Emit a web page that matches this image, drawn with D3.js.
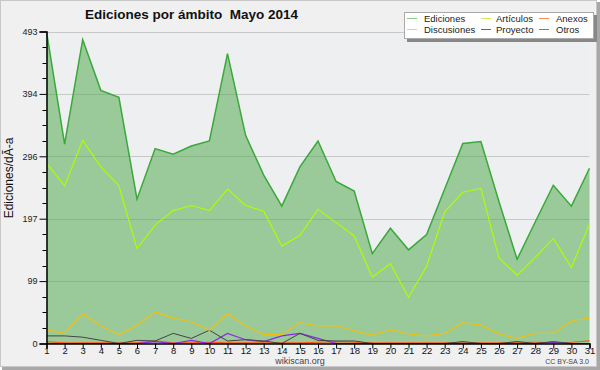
<!DOCTYPE html>
<html>
<head>
<meta charset="utf-8">
<script src="https://cdn.jsdelivr.net/npm/d3@7"></script>
<style>
  body { margin: 0; background: #fff; }
  text { font-family: "Liberation Sans", Arial, sans-serif; white-space: pre; }
</style>
</head>
<body>
<div id="chart"></div>
<script>
// days of the month
var days = d3.range(1, 32);

// series values
var ediciones = [493, 315, 480, 400, 389, 228, 308, 299, 312, 320, 458, 329, 266, 217, 279, 320,
                 256, 241, 142, 182, 148, 172, 244, 316, 319, 224, 133, 192, 250, 217, 277];
var articulos = [285, 249, 321, 279, 249, 150, 187, 210, 218, 210, 244, 218, 209, 154, 171, 212,
                 191, 170, 105, 126, 73, 122, 208, 239, 245, 135, 108, 136, 166, 120, 189];
var discusiones = [22, 16, 47, 28, 14, 29, 50, 40, 34, 21, 47, 28, 14, 14, 33, 28,
                   28, 20, 13, 22, 15, 12, 16, 33, 29, 15, 8, 16, 16, 36, 40];
var proyecto = [12, 12, 10, 5, 0, 5, 4, 16, 8, 21, 4, 6, 4, 0, 16, 5,
                4, 4, 0, 0, 0, 0, 0, 3, 0, 0, 3, 0, 3, 0, 0];
var anexos = [3, 1, 1, 1, 1, 1, 4, 1, 1, 2, 1, 1, 1, 1, 1, 2,
              3, 2, 1, 1, 1, 1, 1, 1, 1, 1, 2, 2, 1, 2, 4];
var otros = [0, 0, 0, 0, 0, 0, 3, 0, 5, 0, 16, 6, 3, 12, 16, 8,
             0, 0, 0, 0, 0, 0, 0, 0, 0, 0, 0, 0, 2, 0, 0];

var yMax = 493;
var yTickLabels = ["0", "99", "197", "296", "394", "493"];

var legendNames = ["Ediciones", "Artículos", "Anexos", "Discusiones", "Proyecto", "Otros"];
var legendColors = ["#88cc88", "#ccee55", "#ff8855", "#ffcc44", "#666666", "#9955ee"];

var W = 600, H = 370;
var margin = {top: 31.5, right: 10, bottom: 26.5, left: 46.5};

var svg = d3.select("#chart").append("svg")
    .attr("width", W)
    .attr("height", H);

// frame with shadow
svg.append("rect").attr("x", 2).attr("y", 2).attr("width", W - 2).attr("height", H - 2)
    .attr("fill", "#a8a8a8");
svg.append("rect").attr("x", 0.5).attr("y", 0.5).attr("width", W - 4).attr("height", H - 4)
    .attr("fill", "#f0f0f0").attr("stroke", "#c8c8c8");

var x = d3.scaleLinear().domain([1, 31]).range([margin.left, W - margin.right - 0.5]);
var y = d3.scaleLinear().domain([0, yMax]).range([H - margin.bottom, margin.top]);

// plot background
svg.append("rect")
    .attr("x", x(1)).attr("y", y(yMax))
    .attr("width", x(31) - x(1)).attr("height", y(0) - y(yMax))
    .attr("fill", "#eeeff1");

var majorTicks = d3.range(0, 6).map(function(i) { return yMax * i / 5; });
var minorTicks = d3.range(0, 21).map(function(i) { return yMax * i / 20; });

// gridlines
svg.append("g").selectAll("line")
    .data(majorTicks.slice(1))
    .join("line")
    .attr("x1", x(1)).attr("x2", x(31))
    .attr("y1", function(d) { return Math.round(y(d)) + 0.5; })
    .attr("y2", function(d) { return Math.round(y(d)) + 0.5; })
    .attr("stroke", "#c8c8c8");

// ediciones area
var area = d3.area()
    .x(function(d, i) { return x(days[i]); })
    .y0(y(0))
    .y1(function(d) { return y(d); });

svg.append("path")
    .datum(ediciones)
    .attr("d", area)
    .attr("fill", "#46a543")
    .attr("fill-opacity", 0.5);

var line = d3.line()
    .x(function(d, i) { return x(days[i]); })
    .y(function(d) { return y(d); });

var series = [
  {values: anexos, color: "#ff5a10", width: 1.2},
  {values: otros, color: "#8a2be2", width: 1.2},
  {values: proyecto, color: "#444444", width: 1},
  {values: discusiones, color: "#f0c010", width: 1.2},
  {values: articulos, color: "#aaff00", width: 1.2},
  {values: ediciones, color: "#3aa83a", width: 1.5}
];

svg.append("g").selectAll("path")
    .data(series)
    .join("path")
    .attr("d", function(d) { return line(d.values); })
    .attr("fill", "none")
    .attr("stroke", function(d) { return d.color; })
    .attr("stroke-width", function(d) { return d.width; });

// y axis
var yAxis = d3.axisLeft(y)
    .tickValues(majorTicks)
    .tickFormat(function(d, i) { return yTickLabels[i]; })
    .tickSize(7)
    .tickPadding(2);
var gy = svg.append("g").attr("transform", "translate(" + x(1) + ",0)").call(yAxis);
gy.select(".domain").attr("stroke", "#000").attr("stroke-width", 1.5);
gy.selectAll("text").attr("font-size", 9).attr("fill", "#222")
    .attr("font-family", "DejaVu Sans");

svg.append("g").selectAll("line")
    .data(minorTicks.filter(function(d, i) { return i % 4 !== 0; }))
    .join("line")
    .attr("x1", x(1) - 4).attr("x2", x(1))
    .attr("y1", function(d) { return Math.round(y(d)) + 0.5; })
    .attr("y2", function(d) { return Math.round(y(d)) + 0.5; })
    .attr("stroke", "#000");

// x axis
var xAxis = d3.axisBottom(x)
    .tickValues(days)
    .tickFormat(d3.format("d"))
    .tickSize(5)
    .tickPadding(0);
var gx = svg.append("g").attr("transform", "translate(0," + y(0) + ")").call(xAxis);
gx.select(".domain").attr("stroke", "#000").attr("stroke-width", 1.5);
gx.selectAll("text").attr("font-size", 9.5).attr("fill", "#111")
    .attr("y", 3.5)
    .attr("font-family", "DejaVu Sans");

// y label
svg.append("text")
    .attr("transform", "translate(13," + 178 + ") rotate(-90)")
    .attr("text-anchor", "middle")
    .attr("font-size", 12)
    .attr("font-family", "DejaVu Sans")
    .attr("fill", "#111")
    .text("Ediciones/dÃ-a");

// title
svg.append("text")
    .attr("x", 85).attr("y", 19)
    .attr("font-size", 13.5)
    .attr("font-weight", "bold")
    .attr("fill", "#111")
    .text("Ediciones por ámbito  Mayo 2014");

// footer
svg.append("text")
    .attr("x", 300).attr("y", 364)
    .attr("text-anchor", "middle")
    .attr("font-size", 9)
    .attr("fill", "#444")
    .text("wikiscan.org");
svg.append("text")
    .attr("x", 589).attr("y", 364)
    .attr("text-anchor", "end")
    .attr("font-size", 7)
    .attr("fill", "#444")
    .text("CC BY-SA 3.0");

// legend
var lg = svg.append("g");
lg.append("rect").attr("x", 407).attr("y", 15).attr("width", 190).attr("height", 27)
    .attr("fill", "#888");
lg.append("rect").attr("x", 404.5).attr("y", 12.5).attr("width", 189).attr("height", 26)
    .attr("fill", "#fff").attr("stroke", "#aaa");

var colX = [407, 481, 539];
var rowY = [18.5, 29.5];
var items = lg.selectAll("g.item")
    .data(legendNames)
    .join("g")
    .attr("class", "item")
    .attr("transform", function(d, i) {
      return "translate(" + colX[i % 3] + "," + rowY[Math.floor(i / 3)] + ")";
    });
items.append("line")
    .attr("x1", 0).attr("x2", 10).attr("y1", 0).attr("y2", 0)
    .attr("stroke", function(d, i) { return legendColors[i]; });
items.append("text")
    .attr("x", function(d, i) { return i % 3 === 1 ? 15 : 17; })
    .attr("y", 3.5)
    .attr("font-size", 9.5)
    .attr("fill", "#222")
    .text(function(d) { return d; });
</script>
</body>
</html>
